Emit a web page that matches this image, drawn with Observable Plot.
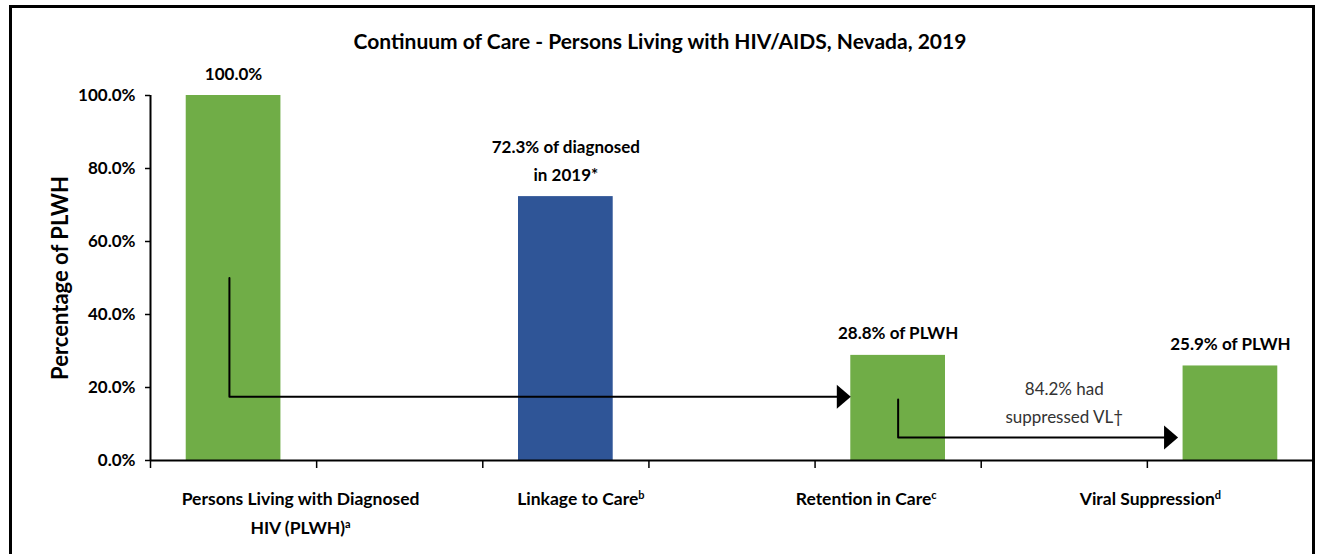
<!DOCTYPE html>
<html>
<head>
<meta charset="utf-8">
<script src="https://cdn.jsdelivr.net/npm/d3@7"></script>
<script src="https://cdn.jsdelivr.net/npm/@observablehq/plot@0.6"></script>
<style>
  html, body { margin: 0; padding: 0; background: #fff; }
  #wrap { position: relative; width: 1320px; height: 554px; overflow: hidden; font-family: Lato, "Open Sans", sans-serif; }
  #frame { position: absolute; left: 9px; top: 5px; width: 1306px; height: 620px; border: 3px solid #000; box-sizing: border-box; pointer-events: none; }
  #title { position: absolute; top: 28px; left: 0; width: 1320px; text-align: center; font-size: 21px; font-weight: bold; color: #000; }
  #chart svg { display: block; }
</style>
</head>
<body>
<div id="wrap">
  <div id="chart"></div>
  <div id="title"></div>
  <div id="frame"></div>
</div>
<script>
// ---- data ----
const titleText = "Continuum of Care - Persons Living with HIV/AIDS, Nevada, 2019";
const categories = [
  "Persons Living with Diagnosed\nHIV (PLWH)\u1d43",
  "Linkage to Care\u1d47",
  "Retention in Care\u1d9c",
  "Viral Suppression\u1d48"
];
const values = [100.0, 72.3, 28.8, 25.9];
const valueLabels = ["100.0%", "72.3% of diagnosed\nin 2019*", "28.8% of PLWH", "25.9% of PLWH"];
const yTicks = [0, 20, 40, 60, 80, 100];
const yLabel = "Percentage of PLWH";
const suppressedNote = "84.2% had\nsuppressed VL\u2020";

// ---- styles ----
const GREEN = "#70AD47", BLUE = "#2F5597";
const FONT = "Lato, 'Open Sans', sans-serif";

document.getElementById("title").textContent = titleText;

// Excel-style category axis: 7 slots, bars sit in every other slot
const nSlots = 7;
const half = 0.285;
const data = categories.map((c, i) => ({category: c, value: values[i], label: valueLabels[i], pos: i * 2 + 0.5}));

// annotation arrows (data space, anchored to the bars)
const b0 = data[0], b2 = data[2], b3 = data[3];
const arrow1 = [
  {x: b0.pos - 0.025, y: 50},
  {x: b0.pos - 0.025, y: 17.5},
  {x: b2.pos - half - 0.06, y: 17.5}
];
const head1 = [{x: b2.pos - half, y: 17.5}];
const arrow2 = [
  {x: b2.pos, y: 16.7},
  {x: b2.pos, y: 6.3},
  {x: b3.pos - half - 0.09, y: 6.3}
];
const head2 = [{x: b3.pos - half - 0.03, y: 6.3}];

const arrowHead = {
  draw(ctx) {
    ctx.moveTo(0, 0);
    ctx.lineTo(-14, -12);
    ctx.lineTo(-14, 12);
    ctx.closePath();
  }
};

const labelDx = [67, 15, -32, -80];

const chart = Plot.plot({
  width: 1320,
  height: 554,
  marginLeft: 150,
  marginRight: 7,
  marginTop: 95,
  marginBottom: 94,
  style: {fontFamily: FONT, fontSize: "17px", color: "#000", background: "transparent", overflow: "visible"},
  x: {domain: [0, nSlots], axis: null},
  y: {domain: [0, 100], axis: null},
  color: {domain: categories, range: [GREEN, BLUE, GREEN, GREEN]},
  marks: [
    Plot.rectY(data, {x1: d => d.pos - half, x2: d => d.pos + half, y: "value", fill: "category"}),
    // axes
    Plot.ruleX([0], {stroke: "#000", strokeWidth: 2}),
    Plot.ruleY([0], {stroke: "#000", strokeWidth: 2}),
    Plot.axisY(yTicks, {tickSize: 5, tickPadding: 10, tickFormat: d => d.toFixed(1) + "%", fontWeight: "bold", fontSize: 17, label: null, stroke: "#000", strokeWidth: 1.5}),
    Plot.axisX(d3.range(0, nSlots), {tickSize: 8, tickFormat: () => "", label: null, stroke: "#000", strokeWidth: 1.5}),
    Plot.text([yLabel], {frameAnchor: "left", textAnchor: "middle", rotate: -90, dx: -90, fontSize: 22, fontWeight: "bold"}),
    // category labels
    ...data.map((d, i) => Plot.text([d], {x: "pos", y: 0, text: "category", dx: labelDx[i], dy: 24, lineAnchor: "top", lineHeight: 1.65, fontWeight: "bold", fontSize: 17.5})),
    // value labels
    Plot.text(data, {x: "pos", y: "value", text: "label", dy: -16, lineAnchor: "bottom", lineHeight: 1.6, fontWeight: "bold", fontSize: 17}),
    // arrows
    Plot.line(arrow1, {x: "x", y: "y", stroke: "#000", strokeWidth: 2, curve: "linear"}),
    Plot.dot(head1, {x: "x", y: "y", symbol: arrowHead, fill: "#000", stroke: "none"}),
    Plot.line(arrow2, {x: "x", y: "y", stroke: "#000", strokeWidth: 2, curve: "linear"}),
    Plot.dot(head2, {x: "x", y: "y", symbol: arrowHead, fill: "#000", stroke: "none"}),
    Plot.text([suppressedNote], {x: (b2.pos + b3.pos) / 2, y: 6.3, dy: -15, lineAnchor: "bottom", lineHeight: 1.6, fontSize: 17, fill: "#333"})
  ]
});

// render modifier-letter superscripts as real superscript tspans
const supMap = {"\u1d43": "a", "\u1d47": "b", "\u1d9c": "c", "\u1d48": "d"};
const supRe = /[\u1d43\u1d47\u1d9c\u1d48]/;
const walker = document.createTreeWalker(chart, NodeFilter.SHOW_TEXT);
const nodes = [];
while (walker.nextNode()) if (supRe.test(walker.currentNode.nodeValue)) nodes.push(walker.currentNode);
for (const node of nodes) {
  const s = node.nodeValue;
  const idx = s.search(supRe);
  const before = document.createTextNode(s.slice(0, idx));
  const sup = document.createElementNS("http://www.w3.org/2000/svg", "tspan");
  sup.setAttribute("baseline-shift", "super");
  sup.setAttribute("font-size", "11");
  sup.textContent = supMap[s[idx]];
  const parent = node.parentNode;
  parent.insertBefore(before, node);
  parent.insertBefore(sup, node);
  node.nodeValue = s.slice(idx + 1);
}
document.getElementById("chart").appendChild(chart);
</script>
</body>
</html>
